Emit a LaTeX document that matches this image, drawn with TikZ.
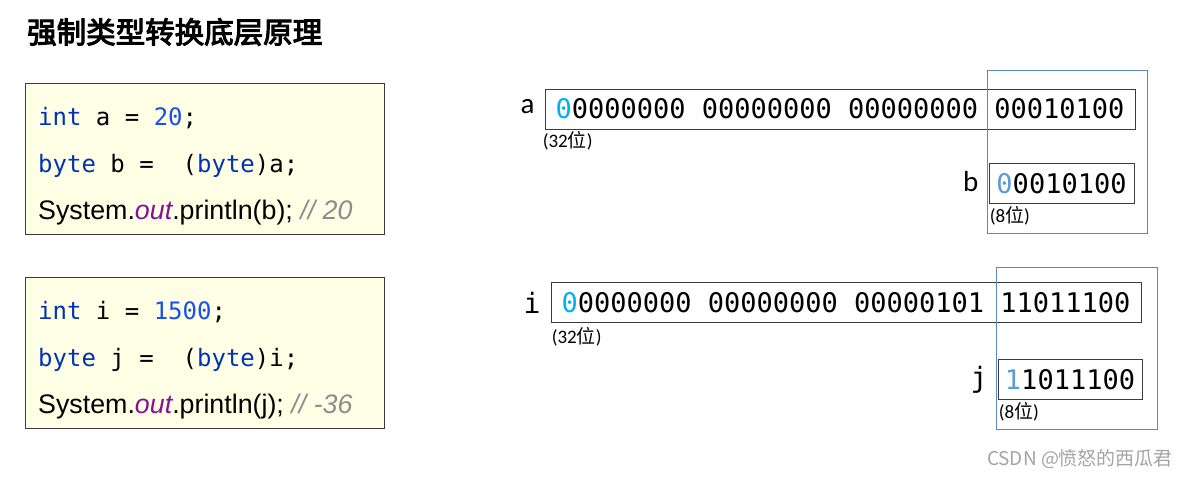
\documentclass[tikz,border=0pt]{standalone}
\usepackage{fontspec}
\usepackage{xcolor}
\setmainfont{Liberation Sans}
\setmonofont{DejaVu Sans Mono}
\newfontfamily\cjk{Noto Sans CJK SC}
\newfontfamily\cjkbold{Noto Sans CJK SC}[FakeBold=3.5]
\newfontfamily\labelfont{Carlito}
\usetikzlibrary{positioning, calc}

\definecolor{codebg}{HTML}{FFFFE6}
\definecolor{boxline}{HTML}{3C3C3C}
\definecolor{cutblue}{HTML}{5B87C8}
\definecolor{kw}{HTML}{0033B3}
\definecolor{num}{HTML}{1750EB}
\definecolor{outc}{HTML}{871094}
\definecolor{cmt}{HTML}{8C8C8C}
\definecolor{signA}{HTML}{00B0F0}
\definecolor{signB}{HTML}{5B9BD5}

\begin{document}
\begin{tikzpicture}[x=1pt, y=-1pt,
        title/.style={anchor=west, inner sep=0pt, font=\fontsize{29.5}{32}\selectfont\cjkbold},
        codebox/.style={draw=boxline, fill=codebg, thick, minimum width=359pt, minimum height=151pt, inner sep=0pt},
        codeline/.style={anchor=west, inner sep=0pt, font=\fontsize{24}{28}\selectfont\ttfamily},
        sansline/.style={anchor=west, inner sep=0pt, font=\fontsize{26.8}{30}\selectfont},
        bitbox/.style={draw=boxline, thick, minimum height=40pt, inner sep=0pt, font=\fontsize{27}{30}\selectfont\ttfamily},
        cutbox/.style={draw=cutblue, semithick, inner sep=0pt},
        varlabel/.style={inner sep=0pt, font=\fontsize{29}{32}\selectfont\labelfont},
        sizenote/.style={anchor=north west, inner sep=0pt, font=\fontsize{19}{22}\selectfont\labelfont},
        node distance=10pt
    ]
    \useasboundingbox (0,0) rectangle (1191,479);

    % --- Title ---
    \node[title] (title) at (27,32) {强制类型转换底层原理};

    % --- Code: int a ---
    \node[codebox] (code1) at (205,158.5) {};
    \node[codeline] (a1) at (38,118) {\textcolor{kw}{int} a = \textcolor{num}{20};};
    \node[codeline] (a2) at (38,166) {\textcolor{kw}{byte} b = \ (\textcolor{kw}{byte})a;};
    \node[sansline] (a3) at (38,213) {System.\textit{\textcolor{outc}{out}}.println(b); \textit{\textcolor{cmt}{// 20}}};

    % --- Code: int i ---
    \node[codebox] (code2) at (204.5,352.5) {};
    \node[codeline] (i1) at (38,312) {\textcolor{kw}{int} i = \textcolor{num}{1500};};
    \node[codeline] (i2) at (38,360) {\textcolor{kw}{byte} j = \ (\textcolor{kw}{byte})i;};
    \node[sansline] (i3) at (38,407) {System.\textit{\textcolor{outc}{out}}.println(j); \textit{\textcolor{cmt}{// -36}}};

    % --- Bits: a -> b ---
    \node[bitbox, minimum width=590pt] (bitsA) at (840,109) {\textcolor{signA}{0}0000000 00000000 00000000 00010100};
    \node[varlabel, left=of bitsA, yshift=2pt] (lblA) {a};
    \node[sizenote] (noteA) at ($(bitsA.south west)+(-2,2)$) {(32{\cjk 位})};
    \node[cutbox, minimum width=160pt, minimum height=163pt] (cutA) at (1067,151.5) {};
    \node[bitbox, minimum width=145pt] (bitsB) at (1061.5,183.5) {\textcolor{signB}{0}0010100};
    \node[varlabel, left=of bitsB, yshift=2pt] (lblB) {b};
    \node[sizenote] (noteB) at ($(bitsB.south west)+(1,2)$) {(8{\cjk 位})};

    % --- Bits: i -> j ---
    \node[bitbox, minimum width=590pt] (bitsI) at (846,302.5) {\textcolor{signA}{0}0000000 00000000 00000101 11011100};
    \node[varlabel, left=of bitsI, font=\fontsize{28}{30}\selectfont\ttfamily] (lblI) {i};
    \node[sizenote] (noteI) at ($(bitsI.south west)+(1,4)$) {(32{\cjk 位})};
    \node[cutbox, minimum width=161pt, minimum height=162pt] (cutI) at (1076.5,348) {};
    \node[bitbox, minimum width=144pt] (bitsJ) at (1070,379.5) {\textcolor{signB}{1}1011100};
    \node[varlabel, left=of bitsJ, font=\fontsize{28}{30}\selectfont\ttfamily] (lblJ) {j};
    \node[sizenote] (noteJ) at ($(bitsJ.south west)+(1,2)$) {(8{\cjk 位})};

    % --- Watermark ---
    \node[inner sep=0pt, text=cmt!80, font=\fontsize{19}{22}\selectfont\cjk] (wm) at (1080,459) {CSDN @愤怒的西瓜君};

\end{tikzpicture}
\end{document}
